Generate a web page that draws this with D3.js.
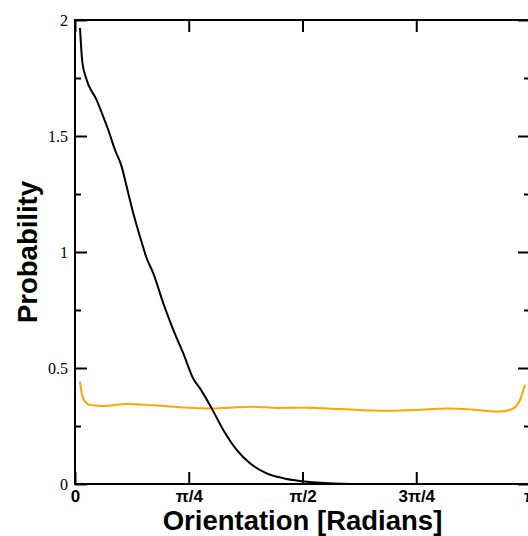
<!DOCTYPE html>
<html>
<head>
<meta charset="utf-8">
<script src="https://cdn.jsdelivr.net/npm/d3@7"></script>
<style>
  body { margin: 0; background: #fff; }
  svg { display: block; }
</style>
</head>
<body>
<div id="chart"></div>
<script>
// black curve: orientation distribution (radians, probability)
const blackX = [0.0345, 0.0504, 0.0760, 0.1498, 0.1954, 0.2299, 0.2762, 0.3224, 0.3570, 0.4025,
  0.4488, 0.4951, 0.5406, 0.6097, 0.6787, 0.7478, 0.8168, 0.8631, 0.9439, 1.0239,
  1.1165, 1.2083, 1.3236, 1.4382, 1.5535, 1.6688, 1.7950, 1.9126];
const blackY = [1.966, 1.820, 1.750, 1.655, 1.583, 1.526, 1.440, 1.368, 1.281, 1.167,
  1.066, 0.973, 0.908, 0.779, 0.664, 0.563, 0.454, 0.412, 0.326, 0.233,
  0.147, 0.089, 0.046, 0.025, 0.013, 0.006, 0.002, 0.0];

// orange curve: nearly flat distribution
const orangeX = [0.0345, 0.0463, 0.0690, 0.1036, 0.1954, 0.3570, 0.5406, 0.7250, 0.9321, 1.0702,
  1.2311, 1.3927, 1.5998, 1.8297, 2.1522, 2.3593, 2.5664, 2.7736, 2.9345, 3.0152,
  3.0725, 3.0953, 3.1071];
const orangeY = [0.441, 0.391, 0.355, 0.341, 0.336, 0.345, 0.339, 0.331, 0.325, 0.329,
  0.333, 0.328, 0.329, 0.323, 0.316, 0.319, 0.325, 0.319, 0.312, 0.322,
  0.362, 0.405, 0.427];

// axis ticks
const xTicks = [0, Math.PI / 4, Math.PI / 2, 3 * Math.PI / 4, Math.PI];
const xTickLabels = ["0", "π/4", "π/2", "3π/4", "π"];
const yTicks = [0, 0.5, 1, 1.5, 2];
const yTickLabels = ["0", "0.5", "1", "1.5", "2"];
const yMinorTicks = [0.25, 0.75, 1.25, 1.75];

const W = 528, H = 536;
const margin = { left: 75, right: 530, top: 20, bottom: 484 };

const svg = d3.select("#chart")
  .append("svg")
  .attr("width", W)
  .attr("height", H);

const x = d3.scaleLinear().domain([0, Math.PI]).range([margin.left, margin.right]);
const y = d3.scaleLinear().domain([0, 2]).range([margin.bottom, margin.top]);

// 曲线
const plot = svg.append("g");

const line = d3.line()
  .x(d => x(d[0]))
  .y(d => y(d[1]))
  .curve(d3.curveMonotoneX);

plot.append("path")
  .datum(orangeX.map((v, i) => [v, orangeY[i]]))
  .attr("fill", "none")
  .attr("stroke", "#ffa500")
  .attr("stroke-width", 2)
  .attr("d", line);

plot.append("path")
  .datum(blackX.map((v, i) => [v, blackY[i]]))
  .attr("fill", "none")
  .attr("stroke", "#000")
  .attr("stroke-width", 2)
  .attr("d", line);

// axes (bottom/left with labels, top/right mirrored ticks)
const axisStyle = g => {
  g.select(".domain").remove();
  g.selectAll(".tick line").attr("stroke", "#000").attr("stroke-width", 2);
};

svg.append("g")
  .attr("transform", `translate(0,${margin.bottom})`)
  .call(d3.axisBottom(x).tickValues(xTicks).tickSize(-12).tickPadding(8)
    .tickFormat((d, i) => xTickLabels[i]))
  .call(axisStyle)
  .call(g => g.selectAll("text")
    .attr("fill", "#000")
    .attr("y", 6)
    .attr("dy", "0.71em")
    .style("font-family", "Liberation Sans, Arial, sans-serif")
    .style("font-weight", "bold")
    .style("font-size", "17px"));

svg.append("g")
  .attr("transform", `translate(0,${margin.top})`)
  .call(d3.axisTop(x).tickValues(xTicks).tickSize(-12).tickFormat(""))
  .call(axisStyle);

svg.append("g")
  .attr("transform", `translate(${margin.left},0)`)
  .call(d3.axisLeft(y).tickValues(yTicks).tickSize(-12).tickPadding(8)
    .tickFormat((d, i) => yTickLabels[i]))
  .call(axisStyle)
  .call(g => g.selectAll("text")
    .attr("fill", "#000")
    .attr("x", -7)
    .style("font-family", "Liberation Serif, Times New Roman, serif")
    .style("font-size", "16px"));

svg.append("g")
  .attr("transform", `translate(${margin.left},0)`)
  .call(d3.axisLeft(y).tickValues(yMinorTicks).tickSize(-6).tickFormat(""))
  .call(axisStyle);

svg.append("g")
  .attr("transform", `translate(${margin.right},0)`)
  .call(d3.axisRight(y).tickValues(yTicks).tickSize(-12).tickFormat(""))
  .call(axisStyle);

svg.append("g")
  .attr("transform", `translate(${margin.right},0)`)
  .call(d3.axisRight(y).tickValues(yMinorTicks).tickSize(-6).tickFormat(""))
  .call(axisStyle);

// frame
svg.append("rect")
  .attr("x", margin.left)
  .attr("y", margin.top)
  .attr("width", margin.right - margin.left)
  .attr("height", margin.bottom - margin.top)
  .attr("fill", "none")
  .attr("stroke", "#000")
  .attr("stroke-width", 2);

// axis titles
svg.append("text")
  .attr("x", (margin.left + margin.right) / 2)
  .attr("y", 530)
  .attr("text-anchor", "middle")
  .style("font-family", "Liberation Sans, Arial, sans-serif")
  .style("font-weight", "bold")
  .style("font-size", "27.5px")
  .text("Orientation [Radians]");

svg.append("text")
  .attr("transform", "rotate(-90)")
  .attr("x", -(margin.top + margin.bottom) / 2)
  .attr("y", 37)
  .attr("text-anchor", "middle")
  .style("font-family", "Liberation Sans, Arial, sans-serif")
  .style("font-weight", "bold")
  .style("font-size", "27.5px")
  .text("Probability");
</script>
</body>
</html>
